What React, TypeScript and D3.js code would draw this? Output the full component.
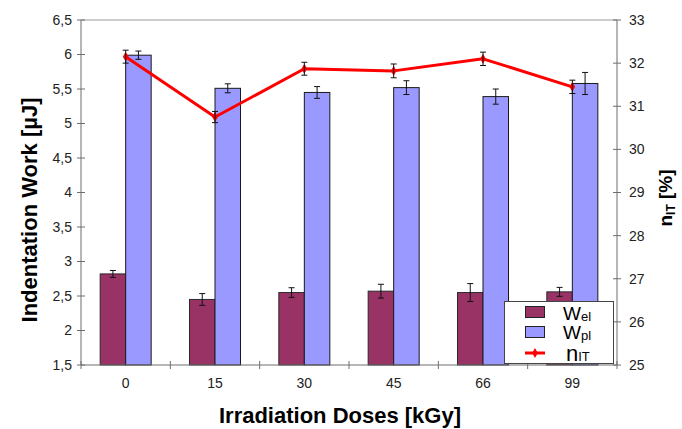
import React from 'react';
import * as d3 from 'd3';

const categories = ['0', '15', '30', '45', '66', '99'];
const welValues = [2.82, 2.45, 2.55, 2.57, 2.55, 2.56];
const welErrors = [0.05, 0.085, 0.07, 0.1, 0.13, 0.065];
const wplValues = [5.99, 5.51, 5.45, 5.52, 5.39, 5.58];
const wplErrors = [0.06, 0.065, 0.085, 0.1, 0.11, 0.16];
const nitValues = [32.15, 30.75, 31.87, 31.82, 32.1, 31.45];
const nitErrors = [0.15, 0.13, 0.15, 0.16, 0.155, 0.155];
const leftTicks = [1.5, 2, 2.5, 3, 3.5, 4, 4.5, 5, 5.5, 6, 6.5];
const rightTicks = [25, 26, 27, 28, 29, 30, 31, 32, 33];

const W = 682;
const H = 429;
const L = 81, R = 617, T = 20, B = 365;
const FONT = '"Liberation Sans", Arial, Helvetica, sans-serif';
const WEL_COLOR = '#993366';
const WPL_COLOR = '#9999FF';
const LINE_COLOR = '#FF0000';
const AXIS_COLOR = '#6e6e6e';

const fmt = (v: number) => d3.format('~g')(v).replace('.', ',');

export default function App() {
  const x = d3.scaleBand<string>().domain(categories).range([L, R]).padding(0);
  const bw = x.bandwidth();
  const inner = d3.scaleBand<string>().domain(['wel', 'wpl']).range([bw * 0.2145, bw * 0.7855]).padding(0);
  const yL = d3.scaleLinear().domain([1.5, 6.5]).range([B, T]);
  const yR = d3.scaleLinear().domain([25, 33]).range([B, T]);
  const cx = (c: string) => (x(c) as number) + bw / 2;

  const line = d3.line<number>()
    .x((_, i) => cx(categories[i]))
    .y((d) => yR(d));

  const errBar = (xc: number, yTop: number, yBot: number, key: string) => (
    <g key={key} stroke="#111" strokeWidth={1}>
      <line x1={xc} x2={xc} y1={yTop} y2={yBot} />
      <line x1={xc - 3} x2={xc + 3} y1={yTop} y2={yTop} />
      <line x1={xc - 3} x2={xc + 3} y1={yBot} y2={yBot} />
    </g>
  );

  const diamond = d3.symbol().type(d3.symbolDiamond).size(28)();

  return (
    <svg width={W} height={H} style={{ position: 'absolute', left: 0, top: 0, display: 'block', background: '#fff' }}
      fontFamily={FONT}>
      <rect x={0} y={0} width={W} height={H} fill="#fff" />
      {/* top frame */}
      <line x1={L} x2={R} y1={T} y2={T} stroke="#9a9a9a" strokeWidth={1} />

      {/* bars */}
      {categories.map((c, i) => {
        const x0 = x(c) as number;
        const wx = x0 + (inner('wel') as number);
        const px = x0 + (inner('wpl') as number);
        const ib = inner.bandwidth();
        return (
          <g key={'b' + c}>
            <rect x={wx} y={yL(welValues[i])} width={ib} height={B - yL(welValues[i])}
              fill={WEL_COLOR} stroke="#2a2a2a" strokeWidth={1} />
            <rect x={px} y={yL(wplValues[i])} width={ib} height={B - yL(wplValues[i])}
              fill={WPL_COLOR} stroke="#1a1a1a" strokeWidth={1} />
            {errBar(wx + ib / 2, yL(welValues[i] + welErrors[i]), yL(welValues[i] - welErrors[i]), 'ew' + c)}
            {errBar(px + ib / 2, yL(wplValues[i] + wplErrors[i]), yL(wplValues[i] - wplErrors[i]), 'ep' + c)}
          </g>
        );
      })}

      {/* nIT line */}
      <path d={line(nitValues) || ''} fill="none" stroke={LINE_COLOR} strokeWidth={3} strokeLinejoin="round" />
      {nitValues.map((v, i) => (
        <path key={'m' + i} d={diamond || ''} transform={`translate(${cx(categories[i])},${yR(v)})`} fill={LINE_COLOR} />
      ))}
      {nitValues.map((v, i) => errBar(cx(categories[i]), yR(v + nitErrors[i]), yR(v - nitErrors[i]), 'en' + i))}

      {/* left axis */}
      <line x1={L} x2={L} y1={T} y2={B} stroke={AXIS_COLOR} strokeWidth={1} />
      {leftTicks.map((t) => (
        <g key={'lt' + t}>
          <line x1={L - 4} x2={L + 4} y1={yL(t)} y2={yL(t)} stroke={AXIS_COLOR} />
          <text x={L - 9} y={yL(t)} dy="0.35em" textAnchor="end" fontSize={14} fill="#222">{fmt(t)}</text>
        </g>
      ))}

      {/* right axis */}
      <line x1={R} x2={R} y1={T} y2={B} stroke={AXIS_COLOR} strokeWidth={1} />
      {rightTicks.map((t) => (
        <g key={'rt' + t}>
          <line x1={R - 4} x2={R + 4} y1={yR(t)} y2={yR(t)} stroke={AXIS_COLOR} />
          <text x={R + 12} y={yR(t)} dy="0.35em" textAnchor="start" fontSize={14} fill="#222">{fmt(t)}</text>
        </g>
      ))}

      {/* bottom axis */}
      <line x1={L} x2={R} y1={B} y2={B} stroke={AXIS_COLOR} strokeWidth={1} />
      {categories.map((c, i) => (
        <line key={'xt' + i} x1={x(c) as number} x2={x(c) as number} y1={B - 4} y2={B + 4} stroke={AXIS_COLOR} />
      ))}
      <line x1={R} x2={R} y1={B - 4} y2={B + 4} stroke={AXIS_COLOR} />
      {categories.map((c) => (
        <text key={'xl' + c} x={cx(c)} y={388} textAnchor="middle" fontSize={14} fill="#222">{c}</text>
      ))}

      {/* axis titles */}
      <text x={340} y={423} textAnchor="middle" fontSize={22} fontWeight="bold" fill="#000">Irradiation Doses [kGy]</text>
      <text transform="translate(37,210) rotate(-90)" textAnchor="middle" fontSize={22} fontWeight="bold" fill="#000">Indentation Work [µJ]</text>
      <text transform="translate(672,198) rotate(-90)" textAnchor="middle" fontSize={19} fontWeight="bold" fill="#000">
        n<tspan fontSize={12} dy="3">IT</tspan><tspan dy="-3"> [%]</tspan>
      </text>

      {/* legend */}
      <g>
        <rect x={504.5} y={301.5} width={109} height={62} fill="#fff" stroke="#444" strokeWidth={1} />
        <rect x={525.5} y={306.5} width={19} height={11} fill={WEL_COLOR} stroke="#222" />
        <rect x={525.5} y={326.5} width={19} height={11} fill={WPL_COLOR} stroke="#222" />
        <line x1={525} x2={545} y1={353} y2={353} stroke={LINE_COLOR} strokeWidth={3} />
        <path d={diamond || ''} transform="translate(535,353)" fill={LINE_COLOR} />
        <text x={563} y={319.5} fontSize={19} fill="#000">W<tspan fontSize={13} dy="1">el</tspan></text>
        <text x={563} y={338.5} fontSize={19} fill="#000">W<tspan fontSize={13} dy="1">pl</tspan></text>
        <text x={566} y={361} fontSize={22} fill="#000">n<tspan fontSize={13} dy="0">IT</tspan></text>
      </g>
    </svg>
  );
}
